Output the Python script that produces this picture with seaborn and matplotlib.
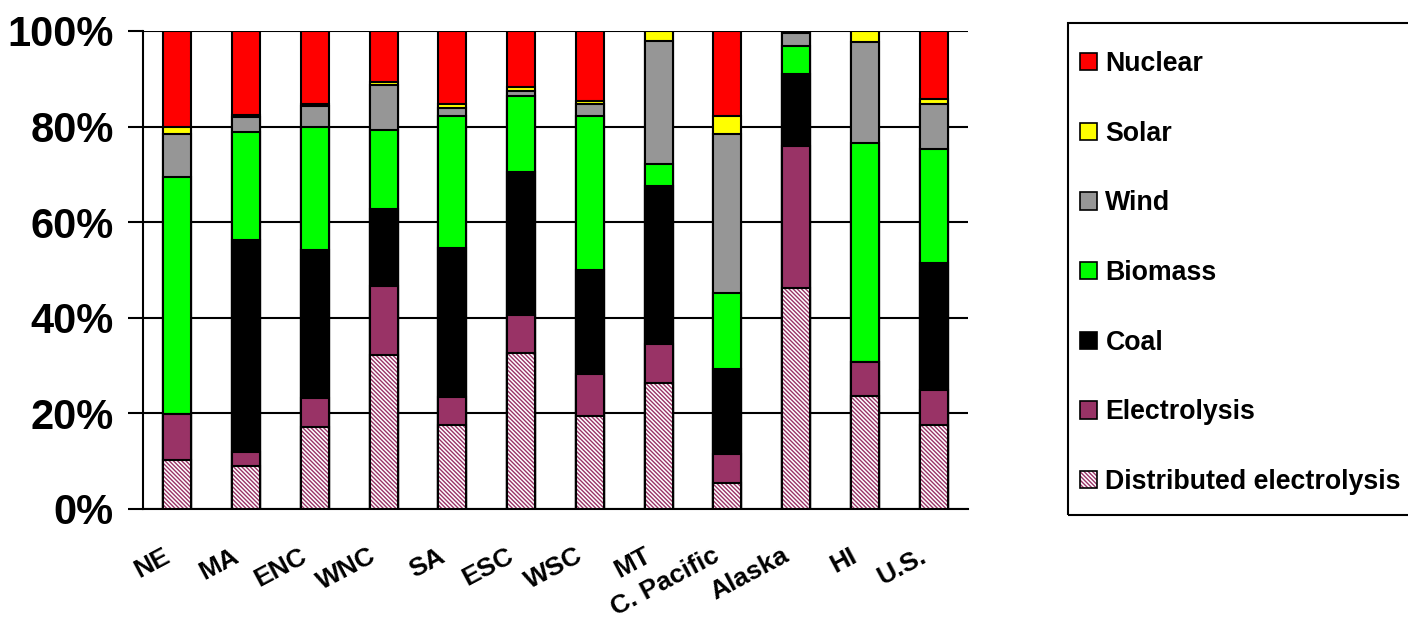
import matplotlib
matplotlib.use("Agg")
import matplotlib.pyplot as plt
import matplotlib.transforms as mtransforms
from matplotlib.patches import Patch, Rectangle
from matplotlib.legend_handler import HandlerTuple
from matplotlib.ticker import FuncFormatter
import numpy as np
import pandas as pd
import seaborn as sns

regions = ["NE", "MA", "ENC", "WNC", "SA", "ESC", "WSC", "MT",
           "C. Pacific", "Alaska", "HI", "U.S."]

# share of hydrogen production by pathway, percent (bottom to top)
distributed_electrolysis = [10.2, 9.0, 17.1, 32.3, 17.5, 32.7, 19.5, 26.4, 5.4, 46.2, 23.6, 17.5]
electrolysis = [9.7, 2.9, 6.1, 14.3, 6.0, 7.9, 8.7, 8.1, 6.1, 29.8, 7.1, 7.3]
coal = [0.0, 44.3, 31.0, 16.1, 31.0, 29.8, 21.9, 33.0, 17.8, 15.1, 0.0, 26.7]
biomass = [49.6, 22.7, 25.8, 16.6, 27.8, 16.1, 32.2, 4.7, 15.8, 5.7, 45.9, 23.9]
wind = [8.9, 3.2, 4.4, 9.3, 1.6, 1.0, 2.4, 25.7, 33.3, 2.7, 21.0, 9.3]
solar = [1.6, 0.3, 0.4, 0.8, 0.8, 0.7, 0.7, 2.1, 3.9, 0.5, 2.4, 1.0]
nuclear = [20.0, 17.6, 15.2, 10.6, 15.3, 11.8, 14.6, 0.0, 17.7, 0.0, 0.0, 14.3]

sources = ["Distributed electrolysis", "Electrolysis", "Coal", "Biomass",
           "Wind", "Solar", "Nuclear"]
colors = {
    "Distributed electrolysis": "white",
    "Electrolysis": "#993366",
    "Coal": "#000000",
    "Biomass": "#00FF00",
    "Wind": "#969696",
    "Solar": "#FFFF00",
    "Nuclear": "#FF0000",
}
HATCH = "\\" * 8
HATCH_COLOR = "#993366"

shares = pd.DataFrame(
    {
        "Distributed electrolysis": distributed_electrolysis,
        "Electrolysis": electrolysis,
        "Coal": coal,
        "Biomass": biomass,
        "Wind": wind,
        "Solar": solar,
        "Nuclear": nuclear,
    },
    index=regions,
)
tops = shares[sources].cumsum(axis=1)

sns.set_style("white")
plt.rcParams["font.family"] = ["Liberation Sans", "DejaVu Sans"]
plt.rcParams["font.weight"] = "bold"
plt.rcParams["text.color"] = "black"
plt.rcParams["xtick.color"] = "black"
plt.rcParams["ytick.color"] = "black"
plt.rcParams["axes.labelcolor"] = "black"
plt.rcParams["hatch.linewidth"] = 1.0

W, H = 1408, 622
fig = plt.figure(figsize=(W / 100, H / 100), dpi=100)
ax = fig.add_axes([143 / W, 1 - 509 / H, (968 - 143) / W, (509 - 31) / H])

BAR_W = 0.41
EDGE_LW = 1.5

# stacked bars: draw cumulative tops from the highest layer down
for src in reversed(sources):
    if src == "Distributed electrolysis":
        sns.barplot(x=regions, y=tops[src].values, order=regions, color="white",
                    saturation=1, width=BAR_W, edgecolor=HATCH_COLOR,
                    linewidth=0, hatch=HATCH, ax=ax, zorder=3)
        sns.barplot(x=regions, y=tops[src].values, order=regions, fill=False,
                    width=BAR_W, edgecolor="black", linewidth=EDGE_LW, ax=ax,
                    zorder=4)
    else:
        sns.barplot(x=regions, y=tops[src].values, order=regions,
                    color=colors[src], saturation=1, width=BAR_W,
                    edgecolor="black", linewidth=EDGE_LW, ax=ax, zorder=3)

ax.set_ylim(0, 100)
ax.set_xlim(-0.5, len(regions) - 0.5)
ax.set_yticks([0, 20, 40, 60, 80, 100])
ax.yaxis.set_major_formatter(FuncFormatter(lambda v, _: f"{v:.0f}%"))
ax.yaxis.grid(True, color="black", linewidth=1.5)
ax.set_axisbelow(True)
for side in ("top", "right"):
    ax.spines[side].set_visible(False)
for side in ("left", "bottom"):
    ax.spines[side].set_color("black")
    ax.spines[side].set_linewidth(1.5)

ax.tick_params(axis="y", length=11, width=1.5, color="black", pad=10,
               labelsize=30, left=True, labelcolor="black")
ax.tick_params(axis="x", length=0, pad=25, labelsize=19, labelcolor="black")
ax.set_xlabel("")
ax.set_ylabel("")
for lbl in ax.get_yticklabels():
    lbl.set_fontweight("bold")
shift = mtransforms.ScaledTranslation(-15 / 100, 0, fig.dpi_scale_trans)
for lbl in ax.get_xticklabels():
    lbl.set_fontweight("bold")
    lbl.set_rotation(28)
    lbl.set_ha("right")
    lbl.set_va("top")
    lbl.set_rotation_mode("anchor")
    lbl.set_transform(lbl.get_transform() + shift)

# legend, top entry first
handles = []
labels = []
for src in reversed(sources):
    if src == "Distributed electrolysis":
        h = (Patch(facecolor="white", edgecolor=HATCH_COLOR, hatch=HATCH, linewidth=0),
             Patch(facecolor="none", edgecolor="black", linewidth=1.2))
    else:
        h = Patch(facecolor=colors[src], edgecolor="black", linewidth=1.2)
    handles.append(h)
    labels.append(src)

leg = fig.legend(handles, labels, loc="upper left",
                 bbox_to_anchor=(1080 / W, 1 - 51 / H),
                 borderaxespad=0, borderpad=0, frameon=False,
                 prop={"size": 19.3, "weight": "bold"},
                 handlelength=0.62, handleheight=0.62, handletextpad=0.33,
                 labelspacing=1.63,
                 handler_map={tuple: HandlerTuple(ndivide=1, pad=0)})

# legend box
fig.patches.append(Rectangle((1068 / W, 1 - 515 / H), (1440 - 1068) / W, (515 - 23) / H,
                             transform=fig.transFigure, facecolor="none",
                             edgecolor="black", linewidth=1.5, clip_on=False))

fig.savefig("out.png", dpi=100)
